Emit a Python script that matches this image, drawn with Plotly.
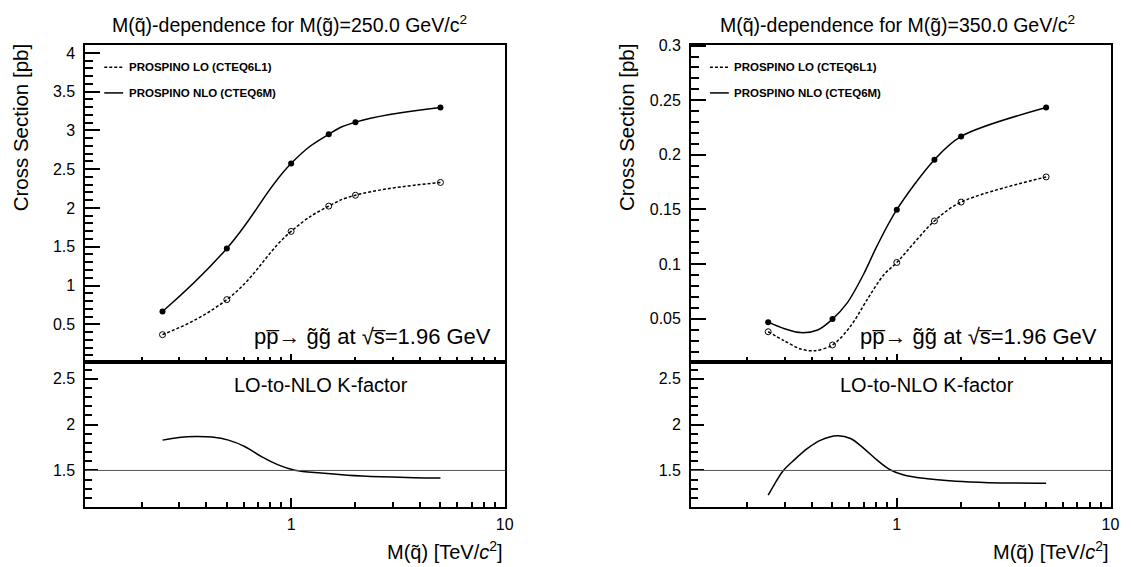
import plotly.graph_objects as go

# ---------------- data ----------------
mass = [0.25, 0.5, 1.0, 1.5, 2.0, 5.0]          # M(squark) [TeV/c^2]

lo_250 = [0.366, 0.818, 1.698, 2.024, 2.164, 2.329]
nlo_250 = [0.665, 1.478, 2.574, 2.950, 3.107, 3.297]

lo_350 = [0.0381, 0.0260, 0.1015, 0.1395, 0.1568, 0.1798]
nlo_350 = [0.0469, 0.0497, 0.1498, 0.1956, 0.2169, 0.2433]

# smooth curves of the 350 GeV panel
curve_mass_nlo_350 = [0.25, 0.298, 0.356, 0.426, 0.5, 0.586, 0.701, 0.807,
                      1.0, 1.5, 2.0, 5.0]
curve_nlo_350 = [0.0469, 0.0409, 0.0373, 0.0397, 0.0497, 0.0645, 0.0912,
                 0.1165, 0.1498, 0.1956, 0.2169, 0.2433]
curve_mass_lo_350 = [0.25, 0.298, 0.356, 0.411, 0.5, 0.608, 0.726, 0.867,
                     1.0, 1.5, 2.0, 5.0]
curve_lo_350 = [0.0381, 0.0297, 0.0222, 0.0207, 0.0260, 0.0433, 0.0674,
                0.0900, 0.1015, 0.1395, 0.1568, 0.1798]

# K-factor curves
k_mass_250 = [0.25, 0.298, 0.357, 0.426, 0.509, 0.609, 0.727, 0.87, 1.04,
              1.38, 1.84, 2.63, 3.76, 5.0]
k_250 = [1.831, 1.860, 1.871, 1.864, 1.831, 1.759, 1.651, 1.561, 1.503,
         1.471, 1.449, 1.432, 1.421, 1.417]

k_mass_350 = [0.25, 0.267, 0.292, 0.331, 0.382, 0.441, 0.526, 0.607, 0.70,
              0.806, 0.93, 1.07, 1.33, 1.89, 2.70, 5.0]
k_350 = [1.230, 1.345, 1.489, 1.615, 1.741, 1.831, 1.878, 1.849, 1.741,
         1.615, 1.508, 1.454, 1.414, 1.381, 1.367, 1.360]

gluino_masses = ["250.0", "350.0"]
legend_names = ["PROSPINO LO (CTEQ6L1)", "PROSPINO NLO (CTEQ6M)"]
k_ref = 1.5

x_major = [1, 10]
x_major_text = ["1", "10"]
x_minor = [0.2, 0.3, 0.4, 0.5, 0.6, 0.7, 0.8, 0.9, 2, 3, 4, 5, 6, 7, 8, 9]

# ---------------- layout geometry ----------------
W, H = 1131, 567
FONT = "Liberation Sans, Arial, Helvetica, sans-serif"


def px_x(p):
    return p / W


def px_y(p):
    return 1 - p / H


left_dom = [px_x(86), px_x(509)]
right_dom = [px_x(696), px_x(1119)]
up_dom = [px_y(359), px_y(38)]
low_dom = [px_y(506), px_y(359)]
xrange_log = [-0.963, 1.003]

fig = go.Figure()

panels = [
    dict(lo=lo_250, nlo=nlo_250, clx=mass, cl=lo_250, cnx=mass, cn=nlo_250,
         km=k_mass_250, k=k_250, xu="x", yu="y", xl="x2", yl="y2", sm=1.3),
    dict(lo=lo_350, nlo=nlo_350, clx=curve_mass_lo_350, cl=curve_lo_350,
         cnx=curve_mass_nlo_350, cn=curve_nlo_350,
         km=k_mass_350, k=k_350, xu="x3", yu="y3", xl="x4", yl="y4", sm=0.9),
]

DASH = "3px,2px"
for i, p in enumerate(panels):
    fig.add_trace(go.Scatter(
        x=p["clx"], y=p["cl"], mode="lines", name=legend_names[0], showlegend=False,
        line=dict(color="black", width=1.5, dash=DASH, shape="spline",
                  smoothing=p["sm"]),
        xaxis=p["xu"], yaxis=p["yu"]))
    fig.add_trace(go.Scatter(
        x=mass, y=p["lo"], mode="markers", showlegend=False,
        marker=dict(symbol="circle-open", size=6, color="black",
                    line=dict(width=1, color="black")),
        xaxis=p["xu"], yaxis=p["yu"]))
    fig.add_trace(go.Scatter(
        x=p["cnx"], y=p["cn"], mode="lines", name=legend_names[1], showlegend=False,
        line=dict(color="black", width=1.5, shape="spline", smoothing=p["sm"]),
        xaxis=p["xu"], yaxis=p["yu"]))
    fig.add_trace(go.Scatter(
        x=mass, y=p["nlo"], mode="markers", showlegend=False,
        marker=dict(symbol="circle", size=6, color="black"),
        xaxis=p["xu"], yaxis=p["yu"]))
    fig.add_trace(go.Scatter(
        x=p["km"], y=p["k"], mode="lines", showlegend=False,
        line=dict(color="black", width=1.5, shape="spline"),
        xaxis=p["xl"], yaxis=p["yl"]))
    fig.add_shape(type="line", xref=f"{p['xl']} domain", yref=p["yl"],
                  x0=0, x1=1, y0=k_ref, y1=k_ref,
                  line=dict(color="#555555", width=1))

common_axis = dict(showline=True, linecolor="black", linewidth=2, mirror=True,
                   showgrid=False, zeroline=False, tickcolor="black",
                   tickfont=dict(family=FONT, size=16, color="black"))


def x_axis(domain, anchor, labels, tlen, mlen):
    return dict(common_axis, type="log", domain=domain, anchor=anchor,
                range=xrange_log, tickmode="array", tickvals=x_major,
                ticktext=x_major_text, showticklabels=labels,
                ticks="inside", ticklen=tlen, tickwidth=1.5,
                ticklabelstandoff=2,
                minor=dict(tickmode="array", tickvals=x_minor, ticks="inside",
                           ticklen=mlen, tickwidth=1.5, tickcolor="black"))


def y_axis(domain, anchor, rng, dtick, mdtick, tlen, mlen):
    return dict(common_axis, domain=domain, anchor=anchor, range=rng,
                tickmode="linear", tick0=0, dtick=dtick, ticks="inside",
                ticklen=tlen, tickwidth=1.5, ticklabelstandoff=5,
                minor=dict(dtick=mdtick, tick0=0, ticks="inside",
                           ticklen=mlen, tickwidth=1.5, tickcolor="black"))


fig.update_layout(
    width=W, height=H, margin=dict(l=0, r=0, t=0, b=0),
    paper_bgcolor="white", plot_bgcolor="white",
    font=dict(family=FONT, color="black"),
    xaxis=x_axis(left_dom, "y", False, 8, 4.5),
    yaxis=y_axis(up_dom, "x", [0.019, 4.108], 0.5, 0.1, 15, 8),
    xaxis2=x_axis(left_dom, "y2", True, 9, 5),
    yaxis2=y_axis(low_dom, "x2", [1.104, 2.688], 0.5, 0.1, 13, 7),
    xaxis3=x_axis(right_dom, "y3", False, 8, 4.5),
    yaxis3=y_axis(up_dom, "x3", [0.0108, 0.301], 0.05, 0.01, 15, 8),
    xaxis4=x_axis(right_dom, "y4", True, 9, 5),
    yaxis4=y_axis(low_dom, "x4", [1.104, 2.688], 0.5, 0.1, 13, 7),
    showlegend=False,
)

ann = []
offsets = [0, 610]
title_x = [292, 904]
for gm, dx, tx in zip(gluino_masses, offsets, title_x):
    ann.append(dict(text=f"M(q\u0303)-dependence for M(g\u0303)={gm} GeV/c<sup>2</sup>",
                    x=px_x(tx), y=px_y(17), xanchor="center", yanchor="middle",
                    font=dict(size=19.5)))
    ann.append(dict(text="Cross Section [pb]", textangle=-90,
                    x=px_x(21 + dx), y=px_y(122), xanchor="center", yanchor="middle",
                    font=dict(size=20.5)))
    ann.append(dict(text="M(q\u0303) [TeV/<i>c</i><sup>2</sup>]",
                    x=px_x(509 + dx), y=px_y(550), xanchor="right", yanchor="middle",
                    font=dict(size=20)))
    ann.append(dict(text="pp\u0305\u2192 g\u0303g\u0303 at \u221as\u0305=1.96 GeV",
                    x=px_x(497 + dx), y=px_y(334), xanchor="right", yanchor="middle",
                    font=dict(size=22)))
    ann.append(dict(text="LO-to-NLO K-factor",
                    x=px_x(323.5 + dx), y=px_y(383), xanchor="center", yanchor="middle",
                    font=dict(size=20)))
    # legend (key lines + labels)
    for name, ly, dash in zip(legend_names, [61, 87], ["3px,2px", "solid"]):
        fig.add_shape(type="line", xref="paper", yref="paper",
                      x0=px_x(105 + dx), x1=px_x(124 + dx), y0=px_y(ly), y1=px_y(ly),
                      line=dict(color="black", width=1.5, dash=dash))
        ann.append(dict(text=f"<b>{name}</b>", x=px_x(127.5 + dx), y=px_y(ly),
                        xanchor="left", yanchor="middle", font=dict(size=11.5)))
for a in ann:
    a.update(xref="paper", yref="paper", showarrow=False)
    a["font"].update(family=FONT, color="black")
fig.update_layout(annotations=ann)

fig.write_html("out.html")
